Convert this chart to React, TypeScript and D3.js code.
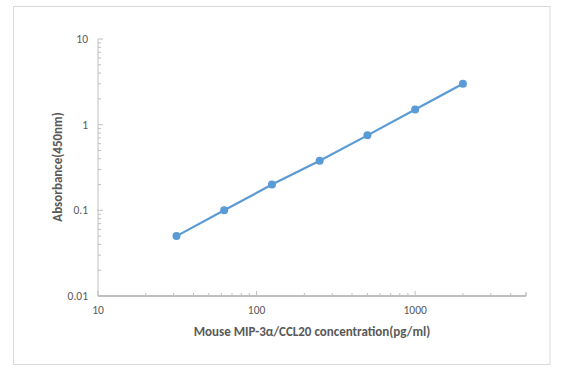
import React from "react";
import * as d3 from "d3";

const concentrations = [31.25, 62.5, 125, 250, 500, 1000, 2000];
const absorbance = [0.05, 0.1, 0.2, 0.38, 0.75, 1.5, 3.0];
const xTickLabels = [10, 100, 1000];
const yTickLabels = [0.01, 0.1, 1, 10];
const xTitle = "Mouse MIP-3α/CCL20 concentration(pg/ml)";
const yTitle = "Absorbance(450nm)";

const W = 566;
const H = 376;
const FONT = "Calibri, Carlito, 'Open Sans', 'Liberation Sans', sans-serif";

export default function App() {
  const x = d3.scaleLog().domain([10, 5000]).range([98, 526]);
  const y = d3.scaleLog().domain([0.01, 10]).range([296, 39]);

  const minorX: number[] = [];
  for (const dec of [10, 100, 1000]) {
    for (let k = 2; k <= 9; k++) {
      const v = dec * k;
      if (v <= 5000) minorX.push(v);
    }
  }
  const minorY: number[] = [];
  for (const dec of [0.01, 0.1, 1]) {
    for (let k = 2; k <= 9; k++) minorY.push(dec * k);
  }

  const pts = concentrations.map((c, i) => [c, absorbance[i]] as [number, number]);
  const line = d3
    .line<[number, number]>()
    .x((d) => x(d[0]))
    .y((d) => y(d[1]));

  const axisColor = "#bfbfbf";
  const labelColor = "#595959";

  return (
    <svg
      width={W}
      height={H}
      style={{ position: "absolute", left: 0, top: 0 }}
      fontFamily={FONT}
    >
      <rect x={0} y={0} width={W} height={H} fill="#ffffff" />
      <rect x={13.5} y={6.5} width={536.5} height={358} fill="#ffffff" stroke="#d9d9d9" strokeWidth={1} />

      {/* y axis */}
      <line x1={x(10)} x2={x(10)} y1={y(10)} y2={y(0.01)} stroke={axisColor} strokeWidth={1} />
      {yTickLabels.map((v) => (
        <line key={"ym" + v} x1={x(10)} x2={x(10) + 5} y1={y(v)} y2={y(v)} stroke={axisColor} strokeWidth={1} />
      ))}
      {minorY.map((v) => (
        <line key={"yn" + v} x1={x(10)} x2={x(10) + 3} y1={y(v)} y2={y(v)} stroke={axisColor} strokeWidth={1} />
      ))}
      {yTickLabels.map((v) => (
        <text key={"yl" + v} x={88} y={y(v)} dy="0.35em" textAnchor="end" fontSize={11.5} fill={labelColor}>
          {String(v)}
        </text>
      ))}

      {/* x axis */}
      <line x1={x(10)} x2={x(5000)} y1={y(0.01)} y2={y(0.01)} stroke={axisColor} strokeWidth={2} />
      {xTickLabels.map((v) => (
        <line key={"xm" + v} x1={x(v)} x2={x(v)} y1={y(0.01)} y2={y(0.01) - 5} stroke={axisColor} strokeWidth={1} />
      ))}
      <line x1={x(5000)} x2={x(5000)} y1={y(0.01)} y2={y(0.01) - 4} stroke={axisColor} strokeWidth={1} />
      {minorX.map((v) => (
        <line key={"xn" + v} x1={x(v)} x2={x(v)} y1={y(0.01)} y2={y(0.01) - 3} stroke={axisColor} strokeWidth={1} />
      ))}
      {xTickLabels.map((v) => (
        <text key={"xl" + v} x={x(v)} y={310} dy="0.35em" textAnchor="middle" fontSize={11.5} fill={labelColor}>
          {String(v)}
        </text>
      ))}

      {/* titles */}
      <text x={312} y={331} dy="0.35em" textAnchor="middle" fontSize={13} fontWeight="bold" fill={labelColor}>
        {xTitle}
      </text>
      <text
        transform={`translate(57,${167}) rotate(-90)`}
        textAnchor="middle"
        dy="0.35em"
        fontSize={13}
        fontWeight="bold"
        fill={labelColor}
      >
        {yTitle}
      </text>

      {/* series */}
      <path d={line(pts) || ""} fill="none" stroke="#5b9bd5" strokeWidth={2.25} />
      {pts.map((p, i) => (
        <circle key={i} cx={x(p[0])} cy={y(p[1])} r={4} fill="#5b9bd5" />
      ))}
    </svg>
  );
}
